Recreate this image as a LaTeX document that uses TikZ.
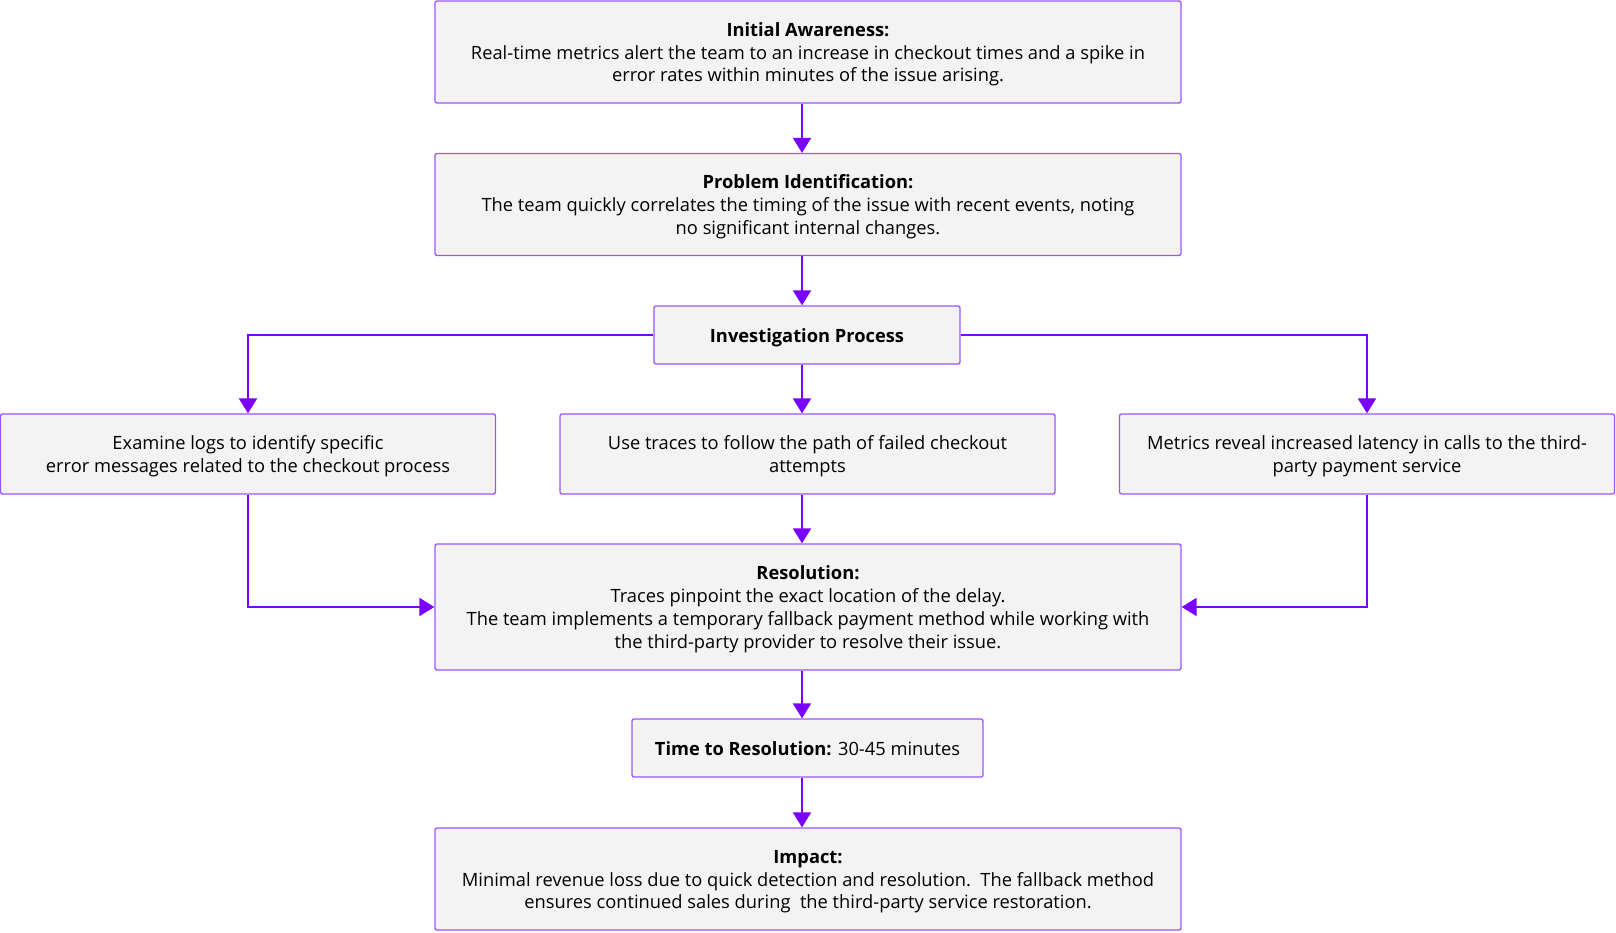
\documentclass[tikz,border=0pt]{standalone}
\usepackage{fontspec}
\setmainfont{Open Sans}
\usetikzlibrary{arrows.meta,calc}
\definecolor{boxfill}{HTML}{F3F3F3}
\definecolor{boxline}{HTML}{9A55FF}
\definecolor{arrowc}{HTML}{7A00FF}
\begin{document}
\begin{tikzpicture}[x=1pt,y=-1pt,
  box/.style={draw=boxline,fill=boxfill,line width=1.3pt,rounded corners=2pt,
    align=center,inner sep=0pt,font=\fontsize{18.3}{22.7}\selectfont,text=black,
    text depth=4.5pt},
  oneline/.style={box,text height=18.5pt},
  twoline/.style={box,text height=41.2pt},
  threeline/.style={box,text height=63.9pt},
  fourline/.style={box,text height=86.6pt},
  conn/.style={draw=arrowc,line width=2pt,-{Triangle[width=18pt,length=15pt]}}]
\useasboundingbox (0,0) rectangle (1616,932);
\node[threeline,minimum width=746pt,minimum height=102pt] (aw) at (808,52) {\textbf{Initial Awareness:}\\Real-time metrics alert the team to an increase in checkout times and a spike in\\error rates within minutes of the issue arising.};
\node[threeline,minimum width=746pt,minimum height=102pt] (pi) at (808,204.5) {\textbf{Problem Identification:}\\The team quickly correlates the timing of the issue with recent events, noting\\no significant internal changes.};
\node[oneline,minimum width=306pt,minimum height=58pt] (ip) at (807,335) {\textbf{Investigation Process}};
\node[twoline,minimum width=495pt,minimum height=80pt] (lg) at (248,454) {Examine logs to identify specific\\error messages related to the checkout process};
\node[twoline,minimum width=495pt,minimum height=80pt] (tr) at (807.5,454) {Use traces to follow the path of failed checkout\\attempts};
\node[twoline,minimum width=495pt,minimum height=80pt] (mt) at (1367,454) {Metrics reveal increased latency in calls to the third-\\party payment service};
\node[fourline,minimum width=746pt,minimum height=126pt] (rs) at (808,607) {\textbf{Resolution:}\\Traces pinpoint the exact location of the delay.\\The team implements a temporary fallback payment method while working with\\the third-party provider to resolve their issue.};
\node[oneline,minimum width=351pt,minimum height=58pt] (tt) at (807.5,748) {\textbf{Time to Resolution:} 30-45 minutes};
\node[threeline,minimum width=746pt,minimum height=102pt] (im) at (808,879) {\textbf{Impact:}\\Minimal revenue loss due to quick detection and resolution.\ \ The fallback method\\ensures continued sales during\ \ the third-party service restoration.};
\coordinate (cx) at (802,0);
\draw[conn] (aw.south -| cx) -- (pi.north -| cx);
\draw[conn] (pi.south -| cx) -- (ip.north -| cx);
\draw[conn] (ip.south -| cx) -- (tr.north -| cx);
\draw[conn] (ip.west) -| (lg.north);
\draw[conn] (ip.east) -| (mt.north);
\draw[conn] (tr.south -| cx) -- (rs.north -| cx);
\draw[conn] (lg.south) |- (rs.west);
\draw[conn] (mt.south) |- (rs.east);
\draw[conn] (rs.south -| cx) -- (tt.north -| cx);
\draw[conn] (tt.south -| cx) -- (im.north -| cx);
\end{tikzpicture}
\end{document}
